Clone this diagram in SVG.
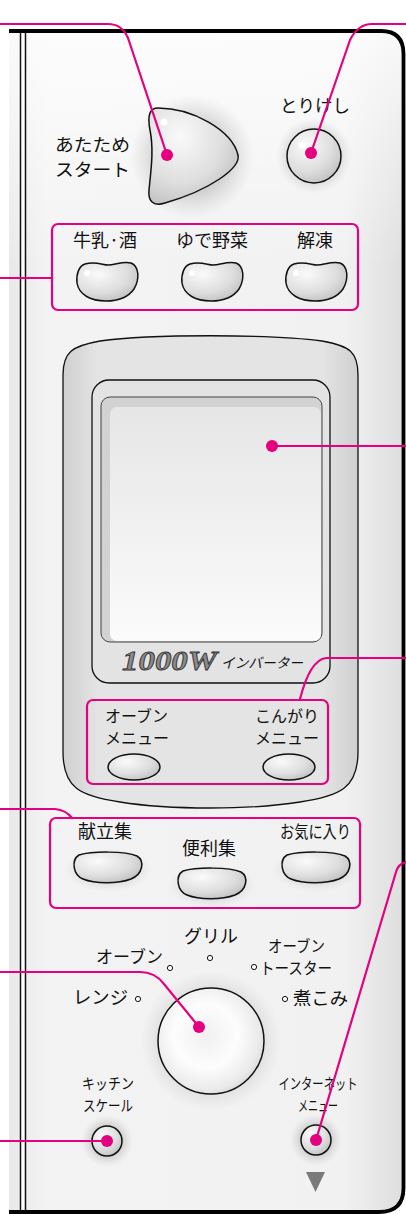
<svg xmlns="http://www.w3.org/2000/svg" width="406" height="1214" viewBox="0 0 406 1214">
<style>
.t{font-family:"Noto Sans CJK JP","Noto Sans",sans-serif;fill:#111;}
.pk{fill:none;stroke:#e4007f;stroke-width:2.2;stroke-linecap:round;stroke-linejoin:round;}
.box{fill:none;stroke:#e4007f;stroke-width:2.2;}
.dot{fill:#e4007f;}
.btn{stroke:#111;stroke-width:1.5;}
.hl{fill:#fff;}
.sm{fill:#fff;stroke:#111;stroke-width:1;}
</style>
<defs>
<linearGradient id="panelH" x1="0" y1="0" x2="1" y2="0">
<stop offset="0" stop-color="#e9e9e9"/>
<stop offset="0.1" stop-color="#f3f3f3"/>
<stop offset="0.85" stop-color="#f1f1f1"/>
<stop offset="1" stop-color="#dedede"/>
</linearGradient>
<linearGradient id="panelV" x1="0" y1="0" x2="0" y2="1">
<stop offset="0" stop-color="#fff" stop-opacity="0.8"/>
<stop offset="0.2" stop-color="#fff" stop-opacity="0"/>
</linearGradient>
<radialGradient id="btnG" cx="0.35" cy="0.3" r="0.8">
<stop offset="0" stop-color="#fafafa"/>
<stop offset="0.6" stop-color="#dedede"/>
<stop offset="1" stop-color="#bdbdbd"/>
</radialGradient>
<radialGradient id="dialG" cx="0.45" cy="0.45" r="0.6">
<stop offset="0" stop-color="#f0f0f0"/>
<stop offset="0.5" stop-color="#fdfdfd"/>
<stop offset="0.85" stop-color="#eaeaea"/>
<stop offset="1" stop-color="#d4d4d4"/>
</radialGradient>
<radialGradient id="halo" cx="0.5" cy="0.5" r="0.5">
<stop offset="0.55" stop-color="#bdbdbd" stop-opacity="0.7"/>
<stop offset="1" stop-color="#d0d0d0" stop-opacity="0"/>
</radialGradient>
<linearGradient id="bezelG" x1="0" y1="0" x2="1" y2="0">
<stop offset="0" stop-color="#cfcfcf"/>
<stop offset="0.12" stop-color="#e4e4e4"/>
<stop offset="0.88" stop-color="#e4e4e4"/>
<stop offset="1" stop-color="#cfcfcf"/>
</linearGradient>
<linearGradient id="screenG" x1="0" y1="0" x2="0" y2="1">
<stop offset="0" stop-color="#e6e6e6"/>
<stop offset="1" stop-color="#fbfbfb"/>
</linearGradient>
<path id="bean" d="M8,2 C18,-1 26,3 31,3 C38,3 46,-1 54,1 C62,4 63,17 57,27 C50,37 38,39 29,39 C14,39 2,33 0,21 C-1,12 2,4 8,2 Z"/>
<path id="pill" d="M6,3 C20,-1 52,-1 64,4 C72,9 70,22 58,27 C45,32 22,32 10,27 C0,23 -2,8 6,3 Z"/>
</defs>

<g id="panel">
<path d="M9,31 L381,31 Q403.5,31 403.5,54 L403.5,1188 Q403.5,1212 379,1212 L9,1212 Z" fill="url(#panelH)"/>
<path d="M9,31 L381,31 Q403.5,31 403.5,54 L403.5,1188 Q403.5,1212 379,1212 L9,1212 Z" fill="url(#panelV)"/>
<rect x="21" y="33" width="4" height="1177" fill="#fdfdfd"/>
<line x1="20.5" y1="33" x2="20.5" y2="1211" stroke="#111" stroke-width="1.5"/>
<line x1="25.5" y1="33" x2="25.5" y2="1211" stroke="#111" stroke-width="1.5"/>
<path d="M9,31 L381,31 Q403.5,31 403.5,54 L403.5,1188 Q403.5,1212 379,1212 L9,1212" fill="none" stroke="#000" stroke-width="3.8"/>
</g>

<g id="start-button">
<ellipse cx="192" cy="157" rx="62" ry="62" fill="url(#halo)"/>
<path class="btn" fill="url(#btnG)" d="M158,108 C192,108 232,130 238,155 C241,168 210,190 165,203 C152,207 148,200 149,190 C151,170 154,150 150,130 C147,115 150,108 158,108 Z"/>
<circle class="hl" cx="164" cy="122" r="3.5"/>
<text class="t" font-size="17.5" x="55" y="151" textLength="75" lengthAdjust="spacingAndGlyphs">あたため</text>
<text class="t" font-size="17.5" x="55" y="176" textLength="75" lengthAdjust="spacingAndGlyphs">スタート</text>
</g>

<g id="cancel-button">
<circle cx="314" cy="156" r="38" fill="url(#halo)"/>
<circle class="btn" cx="314" cy="156" r="27" fill="url(#btnG)"/>
<circle class="hl" cx="302" cy="145" r="3.5"/>
<text class="t" font-size="17.5" x="315" y="112" text-anchor="middle">とりけし</text>
</g>

<g id="auto-menu-group">
<rect class="box" x="52" y="224" width="306" height="86" rx="6"/>
<text class="t" font-size="18" x="73" y="247" textLength="64" lengthAdjust="spacingAndGlyphs">牛乳·酒</text>
<text class="t" font-size="18" x="212" y="247" text-anchor="middle">ゆで野菜</text>
<text class="t" font-size="18" x="315" y="247" text-anchor="middle">解凍</text>
<use href="#bean" x="77" y="262" class="btn" fill="url(#btnG)"/>
<use href="#bean" x="182" y="262" class="btn" fill="url(#btnG)"/>
<use href="#bean" x="286" y="262" class="btn" fill="url(#btnG)"/>
<circle class="hl" cx="87" cy="273" r="3"/>
<circle class="hl" cx="192" cy="273" r="3"/>
<circle class="hl" cx="296" cy="273" r="3"/>
</g>

<g id="display">
<path d="M63,375 C63,352 72,346 100,341 C150,334 272,334 322,341 C350,346 358,352 358,375 L358,752 C358,788 340,796 300,802 C 250,810 170,810 120,802 C80,796 63,788 63,752 Z" fill="url(#bezelG)" stroke="#111" stroke-width="1.3"/>
<rect x="92" y="380" width="238" height="303" rx="17" fill="#e3e3e3" stroke="#111" stroke-width="1.3"/>
<rect x="101" y="397" width="221" height="245" rx="9" fill="#d2d2d2" stroke="#444" stroke-width="1"/>
<rect x="110" y="407" width="211" height="234" rx="7" fill="url(#screenG)"/>
<text x="122" y="670" font-family="'Liberation Serif',serif" font-style="italic" font-weight="bold" font-size="27" fill="#8a8a8a" stroke="#333" stroke-width="0.8" textLength="95" lengthAdjust="spacingAndGlyphs">1000W</text>
<text class="t" x="221" y="668" font-size="14" font-style="italic" fill="#222" textLength="82" lengthAdjust="spacingAndGlyphs">インバーター</text>
</g>

<g id="oven-menu-group">
<rect class="box" x="87" y="700" width="241" height="84" rx="6"/>
<text class="t" font-size="16" x="105" y="722">オーブン</text>
<text class="t" font-size="16" x="105" y="744">メニュー</text>
<text class="t" font-size="16" x="255" y="722">こんがり</text>
<text class="t" font-size="16" x="255" y="744">メニュー</text>
<ellipse class="btn" cx="134" cy="767" rx="26" ry="13" fill="url(#btnG)"/>
<ellipse class="btn" cx="289" cy="767" rx="26" ry="13" fill="url(#btnG)"/>
</g>

<g id="recipe-group">
<rect class="box" x="50" y="818" width="310" height="90" rx="6"/>
<text class="t" font-size="18" x="78" y="838">献立集</text>
<text class="t" font-size="18" x="209" y="855" text-anchor="middle">便利集</text>
<text class="t" font-size="17" x="280" y="838" textLength="71" lengthAdjust="spacingAndGlyphs">お気に入り</text>
<ellipse cx="108" cy="870" rx="44" ry="22" fill="url(#halo)" opacity="0.6"/>
<ellipse cx="212" cy="886" rx="44" ry="22" fill="url(#halo)" opacity="0.6"/>
<ellipse cx="316" cy="870" rx="44" ry="22" fill="url(#halo)" opacity="0.6"/>
<use href="#pill" x="73" y="852" class="btn" fill="url(#btnG)"/>
<use href="#pill" x="177" y="868" class="btn" fill="url(#btnG)"/>
<use href="#pill" x="281" y="852" class="btn" fill="url(#btnG)"/>
</g>

<g id="dial">
<circle cx="211" cy="1041" r="70" fill="url(#halo)"/>
<circle class="btn" cx="211" cy="1041" r="53" fill="url(#dialG)"/>
<text class="t" font-size="18" x="211" y="943" text-anchor="middle">グリル</text>
<circle class="sm" cx="210" cy="958" r="2.6"/>
<text class="t" font-size="17" x="96" y="963" textLength="67" lengthAdjust="spacingAndGlyphs">オーブン</text>
<circle class="sm" cx="170" cy="968" r="2.6"/>
<text class="t" font-size="16" x="268" y="952" textLength="57" lengthAdjust="spacingAndGlyphs">オーブン</text>
<circle class="sm" cx="254" cy="967" r="2.6"/>
<text class="t" font-size="16" x="260" y="974" textLength="72" lengthAdjust="spacingAndGlyphs">トースター</text>
<text class="t" font-size="18" x="73" y="1004" textLength="55" lengthAdjust="spacingAndGlyphs">レンジ</text>
<circle class="sm" cx="138" cy="999" r="2.6"/>
<circle class="sm" cx="285" cy="999" r="2.6"/>
<text class="t" font-size="18" x="293" y="1005" textLength="55" lengthAdjust="spacingAndGlyphs">煮こみ</text>
</g>

<g id="kitchen-scale">
<circle cx="107" cy="1141" r="26" fill="url(#halo)"/>
<circle class="btn" cx="107" cy="1141" r="15" fill="url(#btnG)" stroke-width="1.8"/>
<text class="t" font-size="15" x="108" y="1089" text-anchor="middle" textLength="52" lengthAdjust="spacingAndGlyphs">キッチン</text>
<text class="t" font-size="15" x="108" y="1111" text-anchor="middle" textLength="50" lengthAdjust="spacingAndGlyphs">スケール</text>
</g>

<g id="internet-menu">
<circle cx="316" cy="1140" r="26" fill="url(#halo)"/>
<circle class="btn" cx="316" cy="1140" r="15" fill="url(#btnG)" stroke-width="1.8"/>
<text class="t" font-size="15" x="318" y="1089" text-anchor="middle" textLength="79" lengthAdjust="spacingAndGlyphs">インターネット</text>
<text class="t" font-size="15" x="318" y="1111" text-anchor="middle" textLength="40" lengthAdjust="spacingAndGlyphs">メニュー</text>
<path d="M306,1172 L325,1172 L315.5,1192 Z" fill="#7a7a7a"/>
</g>

<g id="connectors">
<path class="pk" d="M0,24 L108,24 Q122,24 128,38 L167,155"/>
<path class="pk" d="M406,24 L372,24 Q358,24 350,40 L311,153"/>
<path class="pk" d="M0,278 L52,278"/>
<path class="pk" d="M272,446 L406,446"/>
<path class="pk" d="M406,658 L326,658 Q310,660 300,699"/>
<path class="pk" d="M0,809 L55,809 Q66,810 72,818"/>
<path class="pk" d="M0,972 L140,972 Q155,972 164,984 L199,1027"/>
<path class="pk" d="M0,1141 L107,1141"/>
<path class="pk" d="M316,1140 L396,872 Q398,864 406,862"/>
<circle class="dot" cx="167" cy="155" r="6"/>
<circle class="dot" cx="311" cy="153" r="6"/>
<circle class="dot" cx="272" cy="446" r="6"/>
<circle class="dot" cx="199" cy="1027" r="6"/>
<circle class="dot" cx="107" cy="1141" r="6"/>
<circle class="dot" cx="316" cy="1140" r="6"/>
</g>
</svg>
